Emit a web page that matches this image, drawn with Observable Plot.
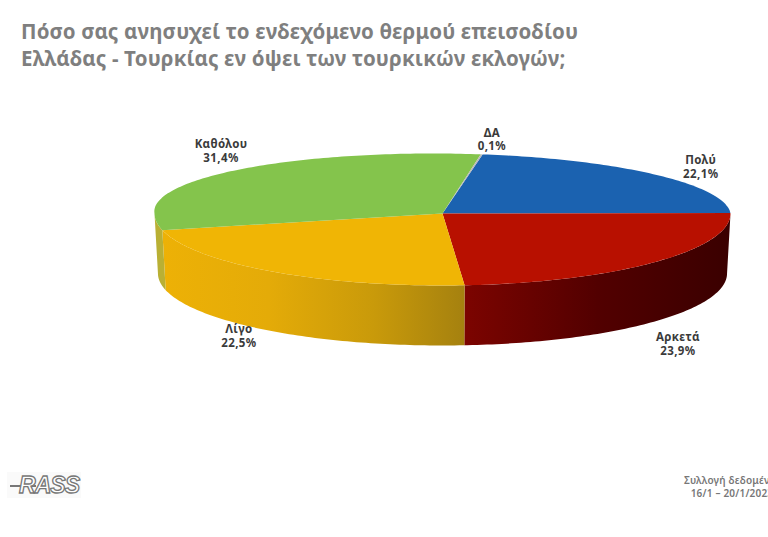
<!DOCTYPE html>
<html lang="el">
<head>
<meta charset="utf-8">
<script src="https://cdn.jsdelivr.net/npm/d3@7"></script>
<script src="https://cdn.jsdelivr.net/npm/@observablehq/plot@0.6"></script>
<style>
html,body{margin:0;padding:0;background:#fff;width:768px;height:537px;overflow:hidden;position:relative;font-family:"Noto Sans",sans-serif}
#title{position:absolute;left:21px;top:18px;color:#7f7f7f;font-weight:700;font-size:20.5px;line-height:27px;white-space:nowrap;letter-spacing:.16px}
#chart{position:absolute;left:0;top:90px}
#logo{position:absolute;left:7px;top:472px;width:74px;height:26px;background:#fafafa;color:#fff;font:italic 900 23px/26px "Liberation Sans",sans-serif;text-align:right;letter-spacing:-1px;-webkit-text-stroke:1.3px #777;overflow:hidden}
#logo span{position:absolute;left:3px;top:13px;width:26px;height:2px;background:#777}
#logo b{position:absolute;right:2px;top:0;font-weight:900}
#source{position:absolute;left:684px;top:474px;width:96px;text-align:center;color:#777;font-size:10px;font-weight:600;line-height:13px;white-space:nowrap;letter-spacing:.2px}
</style>
</head>
<body>
<div id="title">Πόσο σας ανησυχεί το ενδεχόμενο θερμού επεισοδίου<br>Ελλάδας - Τουρκίας εν όψει των τουρκικών εκλογών;</div>
<div id="chart"></div>
<div id="logo"><span></span><b>RASS</b></div>
<div id="source">Συλλογή δεδομένων<br>16/1 – 20/1/2023</div>
<script>
const categories = ["Πολύ", "Αρκετά", "Λίγο", "Καθόλου", "ΔΑ"];
const shares = [22.1, 23.9, 22.5, 31.4, 0.1];
const valueLabels = ["22,1%", "23,9%", "22,5%", "31,4%", "0,1%"];
const topColors = ["#1b62b0", "#b81000", "#f0b505", "#84c44c", "#b8b8b8"];
const wallColors = ["#0e3a70", "url(#wallRed)", "url(#wallYellow)", "#b9b034", "#888888"];
// Layout of the labels: outward reach from the slice middle, and extra vertical shift
const labelReach = [1.21, 1.11, 1.2, 1.02, 1.26];
const labelShift = [0, -1.27, -0.87, 0.35, 0];

const startAngle = 10;     // clockwise from the top of the ellipse, degrees
const depth = 1;           // wall height in y-units
const frontStretch = 1.2;  // the near half looks deeper than the far half
const shear = 0.035;       // slight perspective lean of the far half of the disc

const rad = d => d * Math.PI / 180;
const py = (a, k = 1) => { const c = Math.cos(rad(a)); return k * (c > 0 ? c : frontStretch * c); };
const px = (a, k = 1) => k * Math.sin(rad(a)) - shear * Math.max(0, py(a, k));
const arc = (a0, a1) => d3.range(a0, a1, 1).concat(a1);

let cursor = startAngle;
const slices = categories.map((name, i) => {
  const a0 = cursor, a1 = cursor + shares[i] * 3.6;
  cursor = a1;
  return {name, value: valueLabels[i], a0, a1, mid: (a0 + a1) / 2, top: topColors[i], wall: wallColors[i], reach: labelReach[i], shift: labelShift[i]};
});

const wedge = s => [{x: 0, y: 0}, ...arc(s.a0, s.a1).map(a => ({x: px(a), y: py(a)}))];
const wall = s => {
  const a0 = Math.max(s.a0, 90), a1 = Math.min(s.a1, 270);
  if (a1 <= a0) return [];
  const upper = arc(a0, a1).map(a => ({x: px(a), y: py(a)}));
  const lower = arc(a0, a1).reverse().map(a => ({x: px(a, 0.988), y: py(a) - depth}));
  return [...upper, ...lower];
};

const defs = () => d3.create("svg:defs").html(`
  <linearGradient id="wallYellow" x1="0" x2="1" y1="0" y2="0">
    <stop offset="0" stop-color="#edb106"/><stop offset="0.35" stop-color="#e4ab08"/>
    <stop offset="0.7" stop-color="#c99a0a"/><stop offset="1" stop-color="#a5810f"/>
  </linearGradient>
  <linearGradient id="wallRed" x1="0" x2="1" y1="0" y2="0">
    <stop offset="0" stop-color="#7c0400"/><stop offset="0.5" stop-color="#520000"/>
    <stop offset="1" stop-color="#3a0000"/>
  </linearGradient>`).node();

const chart = Plot.plot({
  width: 768, height: 370,
  margin: 0,
  style: {background: "transparent"},
  x: {domain: [-1, 1], range: [154, 730], axis: null},
  y: {domain: [1, -2.2], range: [63, 255], axis: null},
  marks: [
    defs,
    ...slices.map(s => Plot.line(wall(s), {x: "x", y: "y", fill: s.wall, stroke: "none"})),
    ...slices.map(s => Plot.line(wedge(s), {x: "x", y: "y", fill: s.top, stroke: "none"})),
    Plot.text(slices, {
      x: s => px(s.mid, s.reach),
      y: s => py(s.mid, s.reach) + s.shift,
      text: s => s.name + "\n" + s.value,
      fontSize: 11.5, fontWeight: 700, fill: "#3a3a3a", lineHeight: 1.2,
      fontFamily: "Noto Sans"
    })
  ]
});
chart.querySelectorAll("text").forEach(t => t.style.letterSpacing = "0.4px");
document.getElementById("chart").append(chart);
</script>
</body>
</html>
